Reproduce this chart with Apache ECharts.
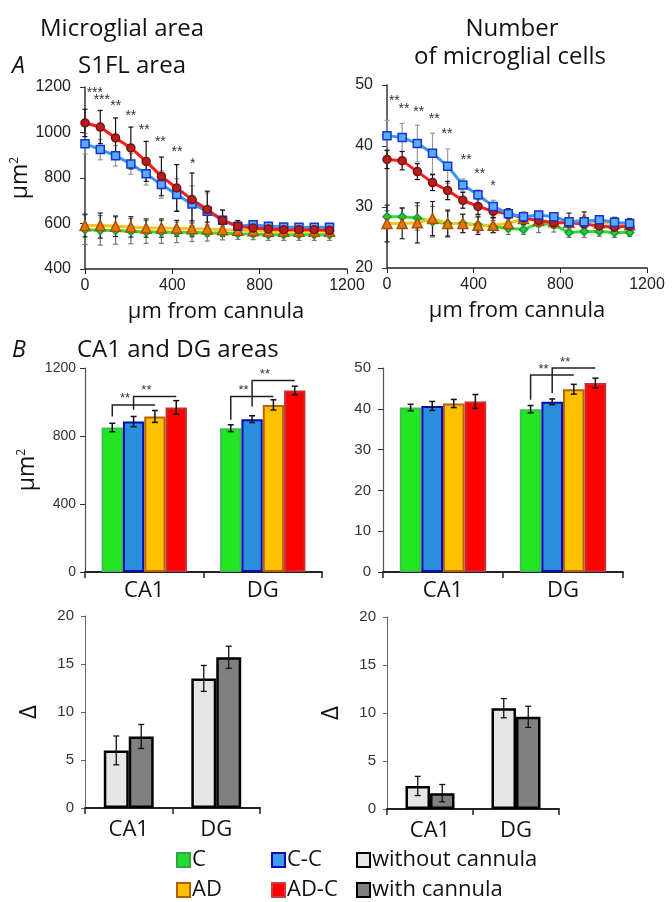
<!DOCTYPE html>
<html>
<head>
<meta charset="utf-8">
<script src="https://cdn.jsdelivr.net/npm/echarts@6/dist/echarts.min.js"></script>
<style>
  html, body { margin: 0; padding: 0; background: #fff; }
  #chart { width: 672px; height: 902px; }
</style>
</head>
<body>
<div id="chart"></div>
<script>
// distance from cannula, µm
const distUm = [0, 70, 140, 210, 280, 350, 420, 490, 560, 630, 700, 770, 840, 910, 980, 1050, 1120];

// A, left: microglial area (µm²) in S1FL
const areaC = [573, 570, 569, 566, 563, 563, 561, 561, 558, 558, 555, 554, 551, 551, 551, 551, 551];
const areaCErr = [65, 65, 60, 55, 50, 50, 45, 40, 35, 30, 25, 25, 25, 25, 25, 25, 25];
const areaCC = [951, 925, 898, 862, 819, 771, 727, 686, 654, 614, 588, 595, 588, 585, 583, 583, 583];
const areaCCErr = [45, 45, 45, 45, 50, 60, 70, 80, 80, 45, 15, 15, 15, 15, 15, 15, 15];
const areaAD = [591, 591, 588, 585, 580, 580, 579, 577, 576, 573, 570, 568, 566, 566, 566, 566, 566];
const areaADErr = [50, 55, 45, 45, 40, 40, 35, 35, 30, 30, 25, 25, 20, 20, 20, 20, 20];
const areaADC = [1042, 1024, 976, 932, 873, 807, 756, 705, 661, 614, 588, 580, 576, 573, 573, 573, 570];
const areaADCErr = [60, 73, 88, 92, 88, 85, 103, 117, 81, 45, 25, 20, 20, 20, 20, 20, 20];

// A, right: number of microglial cells
const cellsC = [28.4, 28.4, 28.2, 27.6, 27.3, 27.3, 27.1, 26.8, 26.5, 26.3, 27.3, 27.1, 25.8, 26.0, 26.0, 25.8, 25.8];
const cellsCErr = [1.0, 1.5, 2.0, 2.5, 2.0, 1.5, 1.2, 1.0, 1.0, 0.8, 1.5, 1.2, 0.8, 1.0, 0.8, 0.8, 0.6];
const cellsCC = [41.7, 41.4, 40.4, 38.8, 36.7, 33.6, 32.0, 30.1, 28.9, 28.4, 28.7, 28.4, 27.6, 27.6, 27.9, 27.5, 27.3];
const cellsCCErr = [2.5, 2.3, 3.0, 3.3, 2.8, 1.0, 0.8, 1.0, 0.8, 0.8, 0.6, 0.6, 0.6, 0.6, 0.6, 0.6, 0.6];
const cellsAD = [27.3, 27.3, 27.4, 28.1, 27.3, 27.3, 27.0, 27.0, 27.3, 28.1, 27.8, 27.6, 27.5, 28.0, 27.4, 27.3, 27.1];
const cellsADErr = [3.0, 2.5, 3.3, 2.8, 2.2, 1.5, 1.5, 1.2, 1.2, 1.0, 1.0, 1.0, 1.5, 1.2, 1.0, 1.0, 1.0];
const cellsADC = [37.8, 37.6, 35.8, 34.0, 32.7, 31.1, 30.1, 29.3, 28.9, 28.2, 27.8, 27.4, 27.4, 27.2, 26.9, 26.7, 26.9];
const cellsADCErr = [1.5, 1.5, 1.3, 1.3, 1.5, 1.3, 1.3, 1.0, 0.8, 0.8, 0.8, 0.8, 0.8, 0.8, 0.8, 0.8, 0.8];

// significance marks over the distance plots: [x, y, mark]
const sigArea = [[45, 1174, '***'], [77, 1141, '***'], [141, 1115, '**'], [210, 1071, '**'], [271, 1012, '**'], [345, 957, '**'], [421, 913, '**'], [493, 862, '*']];
const sigCells = [[34, 47.3, '**'], [78, 46.0, '**'], [146, 45.6, '**'], [218, 44.4, '**'], [277, 42.0, '**'], [366, 37.6, '**'], [428, 35.4, '**'], [489, 33.4, '*']];

// B: hippocampus
const regions = ['CA1', 'DG'];
const hipAreaC = [850, 846];
const hipAreaCErr = [25, 20];
const hipAreaCC = [885, 899];
const hipAreaCCErr = [30, 20];
const hipAreaAD = [915, 983];
const hipAreaADErr = [35, 30];
const hipAreaADC = [968, 1068];
const hipAreaADCErr = [40, 25];

const hipCellsC = [40.3, 39.9];
const hipCellsCErr = [0.8, 0.9];
const hipCellsCC = [40.7, 41.7];
const hipCellsCCErr = [1.1, 0.7];
const hipCellsAD = [41.3, 44.8];
const hipCellsADErr = [1.0, 1.2];
const hipCellsADC = [41.8, 46.3];
const hipCellsADCErr = [1.7, 1.2];

// brackets: [region, from bar, to bar, low end, high end]
const bracketsArea = [[0, 0, 2, 915, 983], [0, 1, 3, 954, 1033], [1, 0, 2, 895, 1033], [1, 1, 3, 974, 1127]];
const bracketsCells = [[1, 0, 2, 42.2, 48.3], [1, 1, 3, 43.9, 50.0]];

// delta, without / with cannula
const deltaAreaNo = [6.0, 13.5];
const deltaAreaNoErr = [1.5, 1.35];
const deltaAreaWith = [7.45, 15.7];
const deltaAreaWithErr = [1.25, 1.15];
const deltaCellsNo = [2.4, 10.5];
const deltaCellsNoErr = [1.0, 1.0];
const deltaCellsWith = [1.65, 9.6];
const deltaCellsWithErr = [0.9, 1.1];

const HEAD = '"Open Sans", sans-serif';
const NUM = '"Liberation Sans", Arial, sans-serif';

const style = {
  'C':    { line: '#33dd33', sym: 'diamond',  fill: '#22cc44', border: '#169a2e', bar: '#22e622', barBorder: '#3fbf4f', err: '#777' },
  'C-C':  { line: '#3b95f0', sym: 'rect',     fill: '#5aaaf5', border: '#1434d8', bar: '#2a8ede', barBorder: '#0a0ab0', err: '#999' },
  'AD':   { line: '#ffc21a', sym: 'triangle', fill: '#e27a05', border: '#a65200', bar: '#ffc000', barBorder: '#b8620a', err: '#222' },
  'AD-C': { line: '#ff1a1a', sym: 'circle',   fill: '#b5201c', border: '#7a1010', bar: '#ff0000', barBorder: '#c23232', err: '#111' }
};

function lineSeries(name, grid, ys) {
  const s = style[name];
  return {
    name, type: 'line', xAxisIndex: grid, yAxisIndex: grid,
    data: distUm.map((x, i) => [x, ys[i]]),
    symbol: s.sym, symbolSize: s.sym === 'triangle' ? 10 : 8,
    lineStyle: { color: s.line, width: 3 },
    itemStyle: { color: s.fill, borderColor: s.border, borderWidth: 1.5 },
    z: 4, silent: true
  };
}

function errLines(x, y1, y2, cap, color, w) {
  return [
    { type: 'line', shape: { x1: x, y1: y1, x2: x, y2: y2 }, style: { stroke: color, lineWidth: w } },
    { type: 'line', shape: { x1: x - cap, y1: y1, x2: x + cap, y2: y1 }, style: { stroke: color, lineWidth: w } },
    { type: 'line', shape: { x1: x - cap, y1: y2, x2: x + cap, y2: y2 }, style: { stroke: color, lineWidth: w } }
  ];
}

function lineErr(name, grid, ys, errs) {
  const color = style[name].err;
  return {
    type: 'custom', xAxisIndex: grid, yAxisIndex: grid, z: 3, silent: true,
    data: distUm.map((x, i) => [x, ys[i], errs[i]]),
    renderItem: (params, api) => {
      const x = api.value(0), y = api.value(1), e = api.value(2);
      const top = api.coord([x, y + e]);
      const bot = api.coord([x, y - e]);
      return { type: 'group', children: errLines(top[0], top[1], bot[1], 2.5, color, 1.2) };
    }
  };
}

function sigMarks(grid, marks) {
  return {
    type: 'custom', xAxisIndex: grid, yAxisIndex: grid, z: 5, silent: true, clip: false,
    data: marks,
    renderItem: (params, api) => {
      const p = api.coord([api.value(0), api.value(1)]);
      return {
        type: 'text', x: p[0], y: p[1],
        style: { text: marks[params.dataIndex][2], font: '14px ' + NUM, fill: '#333', align: 'center', verticalAlign: 'middle' }
      };
    }
  };
}

function hipBar(name, grid, vals, gap) {
  const s = style[name];
  return {
    name, type: 'bar', xAxisIndex: grid, yAxisIndex: grid, data: vals,
    barGap: '0%', barCategoryGap: gap,
    itemStyle: { color: s.bar, borderColor: s.barBorder, borderWidth: 2 },
    z: 2, silent: true
  };
}

function barCenter(api, cat, idx, n, gapFrac) {
  const c = api.coord([cat, 0]);
  const catW = api.size([1, 0])[0];
  const barW = catW * (1 - gapFrac) / n;
  return c[0] + (idx - (n - 1) / 2) * barW;
}

function barErr(grid, vals, errs, idx, n, gapFrac, w, cap) {
  return {
    type: 'custom', xAxisIndex: grid, yAxisIndex: grid, z: 6, silent: true,
    data: vals.map((v, i) => [i, v, errs[i]]),
    renderItem: (params, api) => {
      const cat = api.value(0), y = api.value(1), e = api.value(2);
      const x = barCenter(api, cat, idx, n, gapFrac);
      const top = api.coord([cat, y + e]);
      const bot = api.coord([cat, y - e]);
      return { type: 'group', children: errLines(x, top[1], bot[1], cap, '#111', w) };
    }
  };
}

function brackets(grid, list, n, gapFrac) {
  return {
    type: 'custom', xAxisIndex: grid, yAxisIndex: grid, z: 6, silent: true, clip: false,
    data: list,
    renderItem: (params, api) => {
      const cat = api.value(0);
      const x1 = barCenter(api, cat, api.value(1), n, gapFrac);
      const x2 = barCenter(api, cat, api.value(2), n, gapFrac);
      const yl = api.coord([cat, api.value(3)])[1];
      const yh = api.coord([cat, api.value(4)])[1];
      return {
        type: 'group', children: [
          { type: 'polyline', shape: { points: [[x1, yl], [x1, yh], [x2, yh]] }, style: { stroke: '#222', lineWidth: 1.5, fill: null } },
          { type: 'text', x: x1 + (x2 - x1) * 0.3, y: yh - 6, style: { text: '**', font: '13px ' + NUM, fill: '#333', align: 'center', verticalAlign: 'middle' } }
        ]
      };
    }
  };
}

function deltaBar(name, grid, vals, color) {
  return {
    name, type: 'bar', xAxisIndex: grid, yAxisIndex: grid, data: vals,
    barGap: '0%', barCategoryGap: '43%',
    itemStyle: { color, borderColor: '#000', borderWidth: 2.5 },
    z: 2, silent: true
  };
}

const grids = [
  { left: 85, top: 87, width: 262, height: 182 },
  { left: 387, top: 85, width: 260, height: 183 },
  { left: 85, top: 368, width: 237, height: 204 },
  { left: 383, top: 368, width: 240, height: 204 },
  { left: 85, top: 616, width: 175, height: 192 },
  { left: 387, top: 617, width: 172, height: 192 }
];

const umLabel = '{a|µm}{b|2}';
const umRich = {
  a: { fontFamily: HEAD, fontSize: 23, color: '#111' },
  b: { fontFamily: HEAD, fontSize: 12, color: '#111', verticalAlign: 'top', padding: [0, 0, 10, 0] }
};
const plain = v => String(v);

function valueX(grid) {
  return {
    type: 'value', gridIndex: grid, min: 0, max: 1200, interval: 400,
    name: 'µm from cannula', nameLocation: 'middle', nameGap: 32,
    nameTextStyle: { fontFamily: HEAD, fontSize: 22, color: '#111' },
    axisLine: { show: true, lineStyle: { color: '#222', width: 1.5 } },
    axisTick: { show: true, length: 5, lineStyle: { color: '#222' } },
    axisLabel: { fontFamily: NUM, fontSize: 16, color: '#222', margin: 9, formatter: plain },
    splitLine: { show: false }
  };
}

function catX(grid, labelMargin) {
  return {
    type: 'category', gridIndex: grid, data: regions,
    axisLine: { show: true, lineStyle: { color: '#222', width: 2 } },
    axisTick: { show: true, length: 6, alignWithLabel: false, lineStyle: { color: '#222', width: 1.5 } },
    axisLabel: { fontFamily: HEAD, fontSize: 22, color: '#111', margin: labelMargin }
  };
}

function valueY(grid, min, max, interval, opts) {
  return Object.assign({
    type: 'value', gridIndex: grid, min, max, interval,
    axisLine: { show: true, lineStyle: { color: '#333', width: 1.5 } },
    axisTick: { show: true, length: 5, lineStyle: { color: '#333' } },
    axisLabel: { fontFamily: NUM, fontSize: 16, color: '#222', margin: 14, formatter: plain },
    splitLine: { show: false }
  }, opts || {});
}

const deltaY = {
  name: 'Δ', nameLocation: 'middle', nameGap: 44,
  nameTextStyle: { fontFamily: HEAD, fontSize: 24, color: '#111' },
  axisLine: { show: true, lineStyle: { color: '#666', width: 1 } },
  axisTick: { show: true, length: 4, lineStyle: { color: '#666' } },
  axisLabel: { fontFamily: '"Liberation Sans Narrow", ' + NUM, fontSize: 15, color: '#333', margin: 11, formatter: plain }
};

const legendBase = {
  orient: 'horizontal', padding: 0, itemWidth: 13, itemHeight: 14, itemGap: 0,
  icon: 'rect', selectedMode: false,
  textStyle: { fontFamily: HEAD, fontSize: 22, color: '#111', padding: [0, 0, 0, -3] }
};
const legendItems = [
  { name: 'C', left: 176, top: 849, color: '#22dd33', border: '#2fa63f' },
  { name: 'C-C', left: 271, top: 849, color: '#3d9cf0', border: '#0a0ab8' },
  { name: 'without cannula', left: 356, top: 849, color: '#e6e6e6', border: '#000' },
  { name: 'AD', left: 176, top: 879, color: '#ffc000', border: '#b85c00' },
  { name: 'AD-C', left: 271, top: 879, color: '#ff0000', border: '#c84040' },
  { name: 'with cannula', left: 356, top: 879, color: '#808080', border: '#000' }
];

const option = {
  animation: false,
  backgroundColor: '#fff',
  grid: grids,
  xAxis: [valueX(0), valueX(1), catX(2, 8), catX(3, 8), catX(4, 11), catX(5, 11)],
  yAxis: [
    valueY(0, 400, 1200, 200, {
      name: umLabel, nameLocation: 'middle', nameGap: 46,
      nameTextStyle: { rich: umRich }
    }),
    valueY(1, 20, 50, 10),
    valueY(2, 0, 1200, 400, {
      name: umLabel, nameLocation: 'middle', nameGap: 46,
      nameTextStyle: { rich: umRich },
      axisLine: { show: true, lineStyle: { color: '#555', width: 1.2 } },
      axisLabel: { fontFamily: NUM, fontSize: 14, color: '#333', margin: 9, formatter: plain }
    }),
    valueY(3, 0, 50, 10, {
      axisLine: { show: true, lineStyle: { color: '#555', width: 1.2 } },
      axisLabel: { fontFamily: NUM, fontSize: 15, color: '#333', margin: 12, formatter: plain }
    }),
    valueY(4, 0, 20, 5, deltaY),
    valueY(5, 0, 20, 5, deltaY)
  ],
  legend: legendItems.map(it => Object.assign({}, legendBase, {
    left: it.left, top: it.top,
    data: [{ name: it.name, itemStyle: { color: it.color, borderColor: it.border, borderWidth: 2 } }]
  })),
  graphic: { elements: [
    { type: 'text', x: 40, y: 29, style: { text: 'Microglial area', font: '24px ' + HEAD, fill: '#111', verticalAlign: 'middle' } },
    { type: 'text', x: 12, y: 66, style: { text: 'A', font: 'italic 23px ' + HEAD, fill: '#111', verticalAlign: 'middle' } },
    { type: 'text', x: 78, y: 66, style: { text: 'S1FL area', font: '24px ' + HEAD, fill: '#111', verticalAlign: 'middle' } },
    { type: 'text', x: 512, y: 29, style: { text: 'Number', font: '24px ' + HEAD, fill: '#111', align: 'center', verticalAlign: 'middle' } },
    { type: 'text', x: 510, y: 57, style: { text: 'of microglial cells', font: '24px ' + HEAD, fill: '#111', align: 'center', verticalAlign: 'middle' } },
    { type: 'text', x: 12, y: 350, style: { text: 'B', font: 'italic 23px ' + HEAD, fill: '#111', verticalAlign: 'middle' } },
    { type: 'text', x: 77, y: 350, style: { text: 'CA1 and DG areas', font: '24px ' + HEAD, fill: '#111', verticalAlign: 'middle' } }
  ] },
  series: [
    lineErr('C', 0, areaC, areaCErr),
    lineErr('AD', 0, areaAD, areaADErr),
    lineErr('C-C', 0, areaCC, areaCCErr),
    lineErr('AD-C', 0, areaADC, areaADCErr),
    lineSeries('C', 0, areaC),
    lineSeries('AD', 0, areaAD),
    lineSeries('C-C', 0, areaCC),
    lineSeries('AD-C', 0, areaADC),
    sigMarks(0, sigArea),

    lineErr('C', 1, cellsC, cellsCErr),
    lineErr('AD', 1, cellsAD, cellsADErr),
    lineErr('C-C', 1, cellsCC, cellsCCErr),
    lineErr('AD-C', 1, cellsADC, cellsADCErr),
    lineSeries('C', 1, cellsC),
    lineSeries('AD', 1, cellsAD),
    lineSeries('AD-C', 1, cellsADC),
    lineSeries('C-C', 1, cellsCC),
    sigMarks(1, sigCells),

    hipBar('C', 2, hipAreaC, '28%'),
    hipBar('C-C', 2, hipAreaCC, '28%'),
    hipBar('AD', 2, hipAreaAD, '28%'),
    hipBar('AD-C', 2, hipAreaADC, '28%'),
    barErr(2, hipAreaC, hipAreaCErr, 0, 4, 0.28, 1.5, 3),
    barErr(2, hipAreaCC, hipAreaCCErr, 1, 4, 0.28, 1.5, 3),
    barErr(2, hipAreaAD, hipAreaADErr, 2, 4, 0.28, 1.5, 3),
    barErr(2, hipAreaADC, hipAreaADCErr, 3, 4, 0.28, 1.5, 3),
    brackets(2, bracketsArea, 4, 0.28),

    hipBar('C', 3, hipCellsC, '28%'),
    hipBar('C-C', 3, hipCellsCC, '28%'),
    hipBar('AD', 3, hipCellsAD, '28%'),
    hipBar('AD-C', 3, hipCellsADC, '28%'),
    barErr(3, hipCellsC, hipCellsCErr, 0, 4, 0.28, 1.5, 3),
    barErr(3, hipCellsCC, hipCellsCCErr, 1, 4, 0.28, 1.5, 3),
    barErr(3, hipCellsAD, hipCellsADErr, 2, 4, 0.28, 1.5, 3),
    barErr(3, hipCellsADC, hipCellsADCErr, 3, 4, 0.28, 1.5, 3),
    brackets(3, bracketsCells, 4, 0.28),

    deltaBar('without cannula', 4, deltaAreaNo, '#e6e6e6'),
    deltaBar('with cannula', 4, deltaAreaWith, '#808080'),
    barErr(4, deltaAreaNo, deltaAreaNoErr, 0, 2, 0.43, 1.3, 3),
    barErr(4, deltaAreaWith, deltaAreaWithErr, 1, 2, 0.43, 1.3, 3),

    deltaBar('without cannula', 5, deltaCellsNo, '#e6e6e6'),
    deltaBar('with cannula', 5, deltaCellsWith, '#808080'),
    barErr(5, deltaCellsNo, deltaCellsNoErr, 0, 2, 0.43, 1.3, 3),
    barErr(5, deltaCellsWith, deltaCellsWithErr, 1, 2, 0.43, 1.3, 3)
  ]
};

const chart = echarts.init(document.getElementById('chart'), null, { renderer: 'canvas' });
chart.setOption(option);
</script>
</body>
</html>
